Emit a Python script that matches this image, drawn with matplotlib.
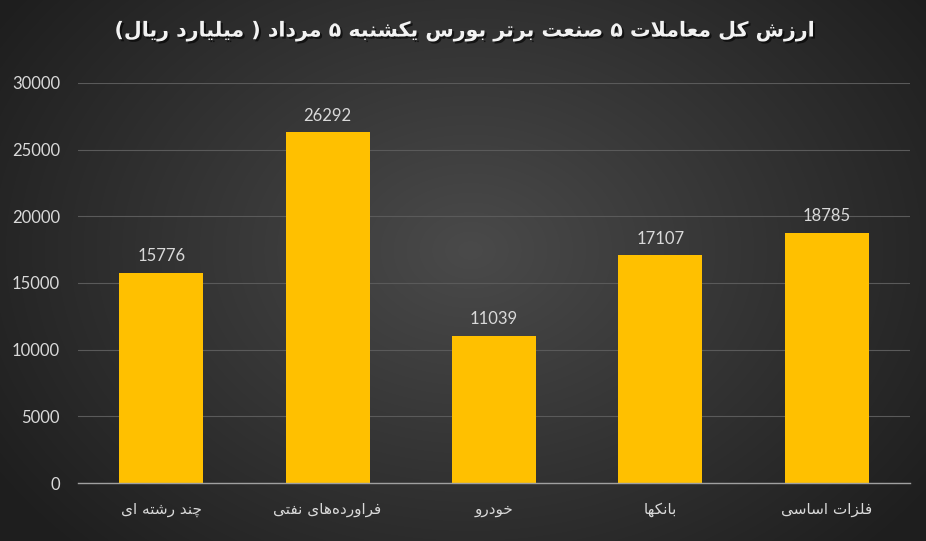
# coding: utf-8
import matplotlib
matplotlib.use('Agg')
import matplotlib.pyplot as plt
import matplotlib.patheffects as pe
import numpy as np

categories = ['چند رشته ای', 'فراورده\u200cهای نفتی', 'خودرو', 'بانکها', 'فلزات اساسی']
values = [15776, 26292, 11039, 17107, 18785]
yticks = [0, 5000, 10000, 15000, 20000, 25000, 30000]
title = 'ارزش کل معاملات ۵ صنعت برتر بورس یکشنبه ۵ مرداد ( میلیارد ریال)'

# contextual forms: isolated, final, initial, medial (None = joins right only)
FORMS = {
    'ا': ('\uFE8D', '\uFE8E', None, None),
    'ب': ('\uFE8F', '\uFE90', '\uFE91', '\uFE92'),
    'ت': ('\uFE95', '\uFE96', '\uFE97', '\uFE98'),
    'خ': ('\uFEA5', '\uFEA6', '\uFEA7', '\uFEA8'),
    'د': ('\uFEA9', '\uFEAA', None, None),
    'ر': ('\uFEAD', '\uFEAE', None, None),
    'ز': ('\uFEAF', '\uFEB0', None, None),
    'س': ('\uFEB1', '\uFEB2', '\uFEB3', '\uFEB4'),
    'ش': ('\uFEB5', '\uFEB6', '\uFEB7', '\uFEB8'),
    'ص': ('\uFEB9', '\uFEBA', '\uFEBB', '\uFEBC'),
    'ع': ('\uFEC9', '\uFECA', '\uFECB', '\uFECC'),
    'ف': ('\uFED1', '\uFED2', '\uFED3', '\uFED4'),
    'ل': ('\uFEDD', '\uFEDE', '\uFEDF', '\uFEE0'),
    'م': ('\uFEE1', '\uFEE2', '\uFEE3', '\uFEE4'),
    'ن': ('\uFEE5', '\uFEE6', '\uFEE7', '\uFEE8'),
    'ه': ('\uFEE9', '\uFEEA', '\uFEEB', '\uFEEC'),
    'و': ('\uFEED', '\uFEEE', None, None),
    'چ': ('\uFB7A', '\uFB7B', '\uFB7C', '\uFB7D'),
    'ک': ('\uFB8E', '\uFB8F', '\uFB90', '\uFB91'),
    'ی': ('\uFBFC', '\uFBFD', '\uFBFE', '\uFBFF'),
    'LA': ('\uFEFB', '\uFEFC', None, None),
}
MIRROR = {'(': ')', ')': '('}


def rtl(text):
    chars = []
    i = 0
    while i < len(text):
        if text[i] == 'ل' and i + 1 < len(text) and text[i + 1] == 'ا':
            chars.append('LA')
            i += 2
        else:
            chars.append(text[i])
            i += 1
    out = []
    for k, c in enumerate(chars):
        if c not in FORMS:
            out.append(MIRROR.get(c, c))
            continue
        f = FORMS[c]
        prev = chars[k - 1] if k > 0 else None
        nxt = chars[k + 1] if k + 1 < len(chars) else None
        pj = prev in FORMS and FORMS[prev][2] is not None
        nj = nxt in FORMS and f[2] is not None
        if pj and nj:
            out.append(f[3])
        elif pj:
            out.append(f[1])
        elif nj:
            out.append(f[2])
        else:
            out.append(f[0])
    s = ''.join(out).replace('\u200c', '')
    return s[::-1]


W, H = 926, 541
fig = plt.figure(figsize=(W / 100, H / 100), dpi=100)

# radial background
bg = fig.add_axes([0, 0, 1, 1], zorder=-10)
yy, xx = np.mgrid[0:H, 0:W]
r = np.sqrt(((xx - 470) / 560.0) ** 2 + ((yy - 250) / 420.0) ** 2)
shade = np.clip(0.29 - 0.17 * r, 0.12, 0.3)
bg.imshow(np.dstack([shade] * 3), aspect='auto', extent=[0, 1, 0, 1])
bg.axis('off')

ax = fig.add_axes([78 / W, 1 - 483 / H, (910 - 78) / W, (483 - 83) / H])
ax.set_facecolor('none')
x = np.arange(len(categories))
bars = ax.bar(x, values, width=0.505, color='#FFC000', zorder=3)
for b in bars:
    b.set_path_effects([pe.SimplePatchShadow(offset=(0, 0), shadow_rgbFace='black', alpha=0.5), pe.Normal()])

for xi, v in zip(x, values):
    ax.annotate(str(v), (xi, v), xytext=(0, 6), textcoords='offset points',
                ha='center', va='bottom', color='#d9d9d9', fontsize=12, family='Lato')

ax.set_ylim(0, 30000)
ax.set_xlim(-0.5, len(categories) - 0.5)
ax.set_yticks(yticks)
ax.set_yticklabels([str(t) for t in yticks], family='Lato')
ax.set_xticks(x)
ax.set_xticklabels([rtl(c) for c in categories])
ax.grid(axis='y', color='#5a5a5a', linewidth=0.8, zorder=0)
ax.tick_params(axis='y', length=0, pad=13, labelcolor='#d9d9d9', labelsize=12)
ax.tick_params(axis='x', length=0, pad=14, labelcolor='#d9d9d9', labelsize=11)
for s in ['left', 'right', 'top']:
    ax.spines[s].set_visible(False)
ax.spines['bottom'].set_color('#a0a0a0')
ax.spines['bottom'].set_linewidth(1.0)
ax.spines['bottom'].set_zorder(4)

fig.text(465 / W, 1 - 31 / H, rtl(title), ha='center', va='center', color='#f2f2f2',
         fontsize=14.8, fontweight='bold',
         path_effects=[pe.withSimplePatchShadow(offset=(1.5, -1.5), shadow_rgbFace='black', alpha=0.6)])

fig.savefig('out.png', dpi=100)
